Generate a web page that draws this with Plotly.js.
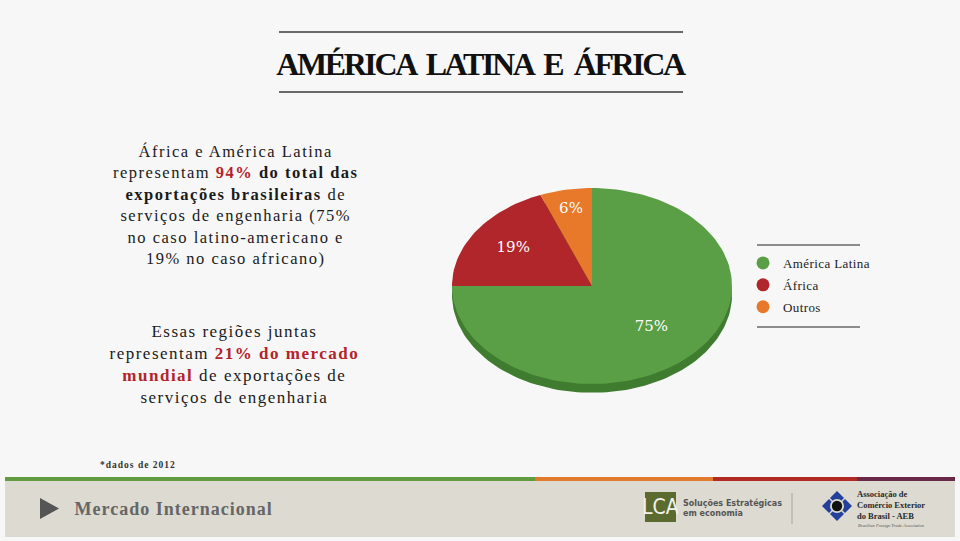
<!DOCTYPE html>
<html>
<head>
<meta charset="utf-8">
<script src="https://cdn.plot.ly/plotly-3.0.1.min.js"></script>
<style>
  html, body { margin: 0; padding: 0; background: #f7f7f7; }
  #chart { width: 960px; height: 541px; }
  .gtitle { letter-spacing: -2.4px; word-spacing: 6px; }
  g.annotation[data-index="0"] text { letter-spacing: 1.5px; }
  g.annotation[data-index="1"] text { letter-spacing: 1.5px; }
  g.annotation[data-index="2"] text { letter-spacing: 1px; }
  g.annotation[data-index="3"] text { letter-spacing: 1px; }
  .legendtext { letter-spacing: 0.4px; }
</style>
</head>
<body>
<div id="chart"></div>
<script>
// ---- data ----
const categories = ['América Latina', 'África', 'Outros'];
const shares = [75, 19, 6];              // % of Brazilian engineering-services exports (2012)
const sliceColors = ['#5a9e45', '#b0262a', '#e8792b'];
const titleText = 'AMÉRICA LATINA E ÁFRICA';
const footnote = '*dados de 2012';
const footerLabel = 'Mercado Internacional';

// ---- geometry helpers (pixel -> paper) ----
const W = 960, H = 541;
const px = x => x / W;
const py = y => 1 - y / H;

const total = shares.reduce((a, b) => a + b, 0);
const depth = 0.09;                 // 3D thickness of the pie (y units)
const labelRadius = [0.6, 0.68, 0.8];

function arcPoints(a0, a1, dy) {
  const n = Math.max(4, Math.ceil((a1 - a0) / (Math.PI / 90)));
  const xs = [], ys = [];
  for (let i = 0; i <= n; i++) {
    const a = a0 + (a1 - a0) * i / n;
    xs.push(Math.sin(a));
    ys.push(Math.cos(a) + dy);
  }
  return [xs, ys];
}

const traces = [];
// side (depth) of the tilted pie
{
  const [xs, ys] = arcPoints(0, 2 * Math.PI, -depth);
  traces.push({
    type: 'scatter', mode: 'lines', x: xs, y: ys, fill: 'toself',
    fillcolor: '#3f7c30', line: { width: 0, color: '#3f7c30' },
    hoverinfo: 'skip', showlegend: false
  });
}
// slices (clockwise from 12 o'clock)
let cum = 0;
const labX = [], labY = [], labT = [];
shares.forEach((v, i) => {
  const a0 = cum / total * 2 * Math.PI;
  cum += v;
  const a1 = cum / total * 2 * Math.PI;
  const [xs, ys] = arcPoints(a0, a1, 0);
  traces.push({
    type: 'scatter', mode: 'lines',
    x: [0].concat(xs, [0]), y: [0].concat(ys, [0]),
    fill: 'toself', fillcolor: sliceColors[i],
    line: { width: 0, color: sliceColors[i] },
    name: categories[i], legendgroup: categories[i], showlegend: false,
    hoverinfo: 'name'
  });
  const am = (a0 + a1) / 2;
  labX.push(labelRadius[i] * Math.sin(am));
  labY.push(labelRadius[i] * Math.cos(am));
  labT.push(v + '%');
});
// slice labels
traces.push({
  type: 'scatter', mode: 'text', x: labX, y: labY, text: labT,
  textposition: 'middle center',
  textfont: { family: 'DejaVu Serif', size: 15, color: '#ffffff' },
  hoverinfo: 'skip', showlegend: false
});
// legend entries
categories.forEach((c, i) => {
  traces.push({
    type: 'scatter', mode: 'markers', x: [null], y: [null],
    name: c, legendgroup: c,
    marker: { color: sliceColors[i], size: 13, symbol: 'circle' },
    showlegend: true
  });
});

const red = '#b3232b';
const block1 = 'África e América Latina<br>' +
  "representam <b><span style='color:" + red + "'>94%</span></b> <b>do total das</b><br>" +
  '<b>exportações brasileiras</b> de<br>' +
  'serviços de engenharia (75%<br>' +
  'no caso latino-americano e<br>' +
  '19% no caso africano)';
const block2 = 'Essas regiões juntas<br>' +
  "representam <b><span style='color:" + red + "'>21% do mercado</span></b><br>" +
  "<b><span style='color:" + red + "'>mundial</span></b> de exportações de<br>" +
  'serviços de engenharia';

const serif = 'Liberation Serif, Times New Roman, serif';

const annotations = [
  { text: block1, x: px(236), y: py(205), xref: 'paper', yref: 'paper',
    xanchor: 'center', yanchor: 'middle', align: 'center', showarrow: false,
    font: { family: serif, size: 16.5, color: '#1a1a1a' } },
  { text: block2, x: px(234), y: py(364), xref: 'paper', yref: 'paper',
    xanchor: 'center', yanchor: 'middle', align: 'center', showarrow: false,
    font: { family: serif, size: 17, color: '#1a1a1a' } },
  { text: '<b>' + footnote + '</b>', x: px(105), y: py(465), xref: 'paper', yref: 'paper',
    xanchor: 'left', yanchor: 'middle', showarrow: false,
    font: { family: serif, size: 9.5, color: '#333' } },
  { text: '<b>' + footerLabel + '</b>', x: px(83), y: py(509), xref: 'paper', yref: 'paper',
    xanchor: 'left', yanchor: 'middle', showarrow: false,
    font: { family: serif, size: 18, color: '#666' } },
  { text: 'LCA', x: px(660.5), y: py(507), xref: 'paper', yref: 'paper',
    xanchor: 'center', yanchor: 'middle', showarrow: false,
    font: { family: 'Liberation Sans Narrow, DejaVu Sans Condensed, Liberation Sans', size: 21, color: '#f2f2ea' } },
  { text: '<b>Soluções Estratégicas<br>em economia</b>', x: px(681), y: py(508), xref: 'paper', yref: 'paper',
    xanchor: 'left', yanchor: 'middle', align: 'left', showarrow: false,
    font: { family: 'DejaVu Sans, Liberation Sans', size: 8, color: '#555' } },
  { text: '<b>Associação de<br>Comércio Exterior<br>do Brasil - AEB</b>', x: px(855), y: py(505), xref: 'paper', yref: 'paper',
    xanchor: 'left', yanchor: 'middle', align: 'left', showarrow: false,
    font: { family: serif, size: 8.5, color: '#2a2a2a' } },
  { text: '<i>Brazilian Foreign Trade Association</i>', x: px(856), y: py(525), xref: 'paper', yref: 'paper',
    xanchor: 'left', yanchor: 'middle', showarrow: false,
    font: { family: serif, size: 4.5, color: '#555' } }
];

function hline(x0, x1, y, color, w) {
  return { type: 'line', xref: 'paper', yref: 'paper', x0: px(x0), x1: px(x1), y0: py(y), y1: py(y),
    line: { color: color, width: w }, layer: 'above' };
}
function rect(x0, y0, x1, y1, color) {
  return { type: 'rect', xref: 'paper', yref: 'paper', x0: px(x0), x1: px(x1), y0: py(y1), y1: py(y0),
    fillcolor: color, line: { width: 0 }, layer: 'below' };
}
function poly(pts, color, layer) {
  const d = pts.map((p, i) => (i ? 'L' : 'M') + px(p[0]).toFixed(5) + ',' + py(p[1]).toFixed(5)).join(' ') + ' Z';
  return { type: 'path', xref: 'paper', yref: 'paper', path: d, fillcolor: color, line: { width: 0 }, layer: layer || 'above' };
}
function circ(cx, cy, r, color) {
  return { type: 'circle', xref: 'paper', yref: 'paper', x0: px(cx - r), x1: px(cx + r), y0: py(cy + r), y1: py(cy - r),
    fillcolor: color, line: { width: 0 }, layer: 'above' };
}
function diamond(cx, cy, h, color) {
  return poly([[cx, cy - h], [cx + h, cy], [cx, cy + h], [cx - h, cy]], color);
}

const shapes = [
  // title rules
  hline(279, 683, 32, '#3a3a3a', 1.5),
  hline(279, 683, 92, '#3a3a3a', 1.5),
  // legend rules
  hline(757, 860, 245, '#222', 1.2),
  hline(757, 860, 327, '#222', 1.2),
  // footer band
  rect(5, 481, 955, 537, '#dcdad1'),
  rect(5, 477, 535, 481, '#629c40'),
  rect(535, 477, 713, 481, '#e07b2e'),
  rect(713, 477, 857, 481, '#b12a24'),
  rect(857, 477, 955, 481, '#6a2848'),
  // play triangle
  poly([[40, 498], [40, 519], [59, 508.5]], '#555555'),
  // LCA logo box
  rect(645, 492, 676, 522, '#5b6a2f'),
  // separator
  { type: 'line', xref: 'paper', yref: 'paper', x0: px(792), x1: px(792), y0: py(493), y1: py(524),
    line: { color: '#b8b6ae', width: 1.5 } },
  // AEB logo
  diamond(837, 498, 7, '#23419b'),
  diamond(837, 514, 7, '#23419b'),
  diamond(829, 506, 7, '#23419b'),
  diamond(845, 506, 7, '#23419b'),
  circ(837, 506, 7, '#dcdad1'),
  circ(837, 506, 5.2, '#111111')
];

const layout = {
  width: W, height: H,
  margin: { l: 0, r: 0, t: 0, b: 0, pad: 0 },
  paper_bgcolor: '#f7f7f7',
  plot_bgcolor: 'rgba(0,0,0,0)',
  title: {
    text: '<b>' + titleText + '</b>',
    x: 0.5, xanchor: 'center', xref: 'paper',
    y: py(64), yanchor: 'middle', yref: 'paper',
    font: { family: serif, size: 32, color: '#111' }
  },
  xaxis: { domain: [px(452), px(732)], range: [-1, 1], visible: false, fixedrange: true },
  yaxis: { domain: [py(393.8), py(188)], range: [-1 - depth - 0.01, 1], visible: false, fixedrange: true },
  showlegend: true,
  legend: {
    x: px(743), y: py(248), xanchor: 'left', yanchor: 'top',
    bgcolor: 'rgba(0,0,0,0)', borderwidth: 0, traceorder: 'grouped', tracegroupgap: 2,
    font: { family: serif, size: 13, color: '#222' }
  },
  annotations: annotations,
  shapes: shapes
};

Plotly.newPlot('chart', traces, layout, { displayModeBar: false, staticPlot: true });
</script>
</body>
</html>
